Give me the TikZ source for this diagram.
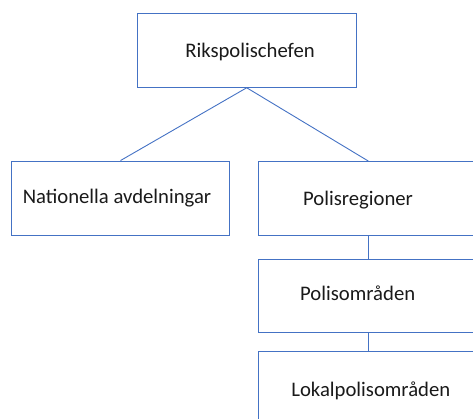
\documentclass[tikz,border=0pt]{standalone}
\usepackage{fontspec}
\setmainfont{Carlito}
\definecolor{boxblue}{HTML}{4472C4}
\definecolor{txt}{HTML}{1A1A1A}
\begin{document}
\begin{tikzpicture}[x=1pt,y=-1pt,
  orgbox/.style={draw=boxblue,line width=0.9pt,fill=white,minimum width=#1,minimum height=74pt,inner sep=0pt},
  orgbox/.default=218pt,
  lbl/.style={text=txt,font=\fontsize{20.7}{24}\selectfont,anchor=base,inner sep=0pt},
  link/.style={draw=boxblue,line width=0.9pt}]
\useasboundingbox (0,0) rectangle (473,418);
\begin{scope}
\clip (0,0) rectangle (473,418);
\node[orgbox=218.7pt] (top) at (246.7,50.3) {};
\node[orgbox=217.6pt] (nat) at (120.5,198) {};
\node[orgbox=220pt] (reg) at (368.3,198.5) {};
\node[orgbox=220pt,minimum height=73.3pt] (omr) at (368.3,295.7) {};
\node[orgbox=220pt] (lok) at (368.3,388.7) {};
\draw[link] (top.south) -- (nat.north);
\draw[link] (top.south) -- (reg.north);
\draw[link] (reg.south) -- (omr.north);
\draw[link] (omr.south) -- (lok.north);
\end{scope}
\node[lbl] (ttop) at (250,57.3) {Rikspolischefen};
\node[lbl] (tnat) at (117,203.3) {Nationella avdelningar};
\node[lbl] (treg) at (358,205) {Polisregioner};
\node[lbl] (tomr) at (357.7,300.7) {Polisområden};
\node[lbl] (tlok) at (370.8,396.7) {Lokalpolisområden};
\end{tikzpicture}
\end{document}
